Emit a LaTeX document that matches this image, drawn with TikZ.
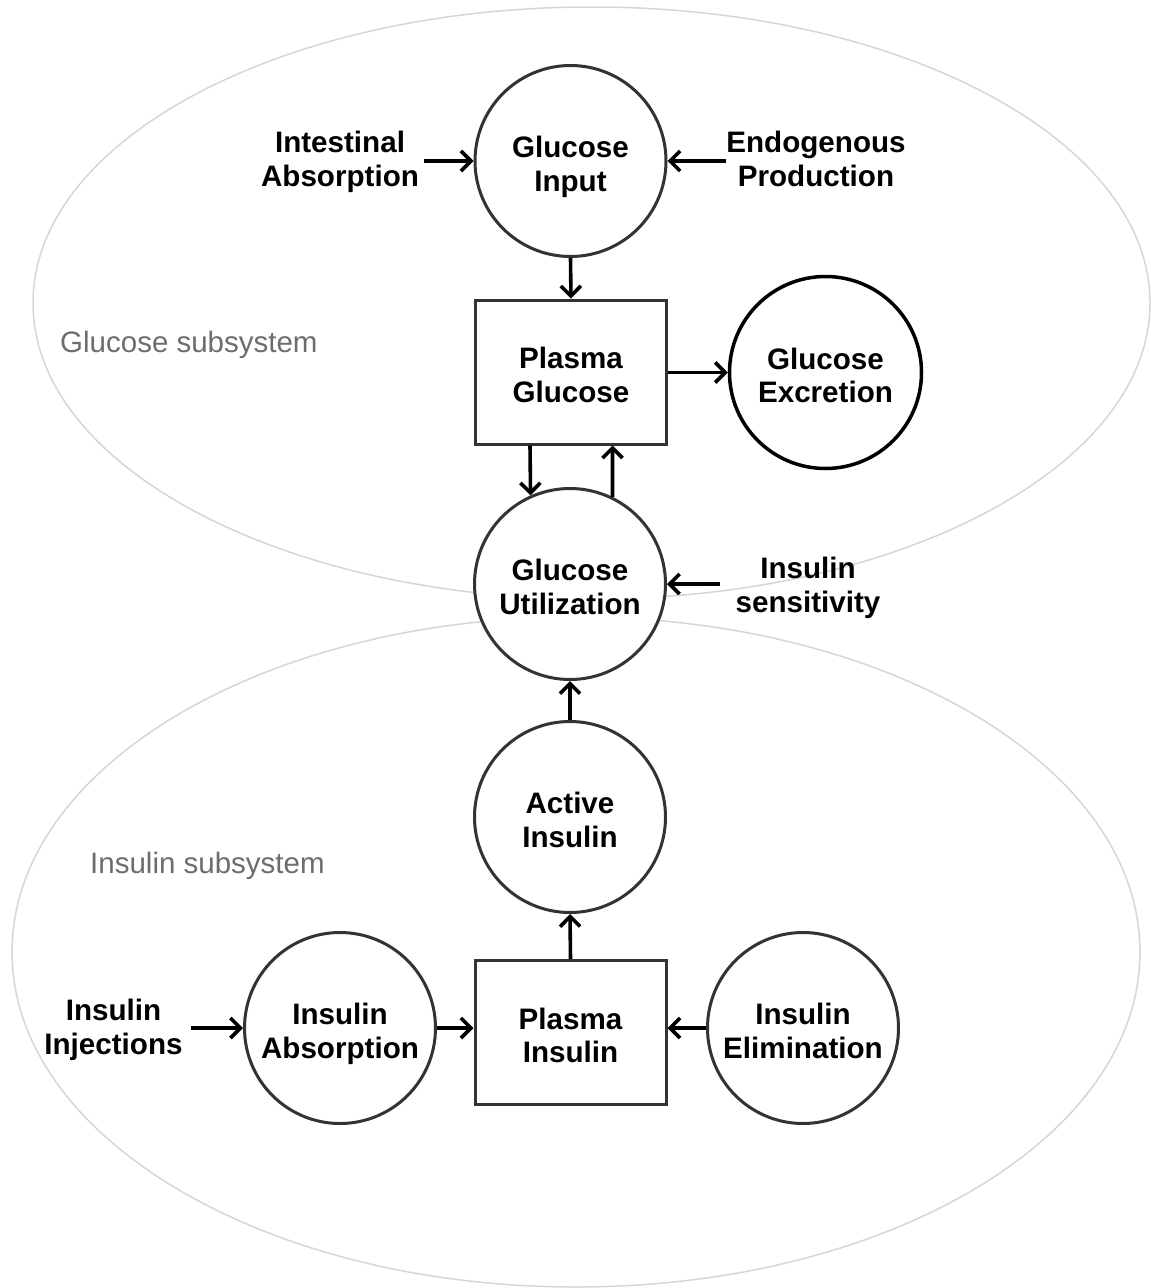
\documentclass[tikz,border=0pt]{standalone}
\usepackage{fontspec}
\setmainfont{Liberation Sans}
\usetikzlibrary{arrows.meta}
\definecolor{ellcol}{HTML}{D6D6D6}
\definecolor{strokecol}{HTML}{333333}
\definecolor{subcol}{HTML}{6D6D6D}
\begin{document}
\begin{tikzpicture}[x=1pt,y=1pt,
  bfont/.style={font=\bfseries\fontsize{29.6}{33.5}\selectfont},
  circ/.style={circle,draw=strokecol,line width=3pt,fill=white,minimum size=191pt,
    inner sep=0pt,align=center,bfont,text height=60pt,text depth=0pt},
  sq/.style={rectangle,draw=strokecol,line width=3pt,fill=white,minimum width=191pt,
    minimum height=144pt,inner sep=0pt,align=center,bfont,text height=60pt,text depth=0pt},
  lbl/.style={align=center,bfont,inner ysep=0pt,text depth=0pt},
  arr/.style={-{Straight Barb[length=10pt,width=20pt]},line width=3.6pt,black},
  subl/.style={font=\fontsize{29.5}{33}\selectfont,text=subcol,inner sep=0pt,anchor=base west},
  ellp/.style={draw=ellcol,line width=1.5pt}]
\useasboundingbox (0,0) rectangle (1151,-1288);
\fill[white] (0,0) rectangle (1151,-1288);
% subsystem ellipses
\draw[ellp] (591.5,-303) ellipse [x radius=558.5, y radius=296];
\draw[ellp] (576,-952) ellipse [x radius=564, y radius=335];
% subsystem labels
\node[subl] (gsub) at (60,-352) {Glucose subsystem};
\node[subl] (isub) at (90,-873) {Insulin subsystem};
% main nodes
\node[circ] (gi) at (570.5,-161) {Glucose\\Input};
\node[sq] (pg) at (571,-372) {Plasma\\Glucose};
\node[circ,draw=black,line width=3.5pt,minimum size=192pt] (ge) at (825.5,-372.5) {Glucose\\Excretion};
\node[circ] (gu) at (570,-584) {Glucose\\Utilization};
\node[circ] (ai) at (570,-817) {Active\\Insulin};
\node[sq] (pi) at (570.5,-1032.5) {Plasma\\Insulin};
\node[circ] (iab) at (340,-1028) {Insulin\\Absorption};
\node[circ] (iel) at (803,-1028) {Insulin\\Elimination};
% input labels
\node[lbl,inner xsep=5pt] (lia) at (340,-159) {Intestinal\\Absorption};
\node[lbl,inner xsep=0pt] (lep) at (816,-159) {Endogenous\\Production};
\node[lbl,inner xsep=15pt] (lis) at (808,-585) {Insulin\\sensitivity};
\node[lbl,inner xsep=8pt] (lij) at (113.5,-1027) {Insulin\\Injections};
% connectors
\draw[arr] (lia.east |- gi.west) -- (gi.west);
\draw[arr] (lep.west |- gi.east) -- (gi.east);
\draw[arr] (gi.south) -- (pg.north);
\draw[arr] (pg.east |- ge.west) -- (ge.west);
\draw[arr] ([xshift=-41pt]pg.south) -- (gu.114.6);
\draw[arr] (gu.64) -- ([xshift=41.5pt]pg.south);
\draw[arr] (lis.west |- gu.east) -- (gu.east);
\draw[arr] (ai.north) -- (gu.south);
\draw[arr] (pi.north) -- (ai.south);
\draw[arr] (lij.east |- iab.west) -- (iab.west);
\draw[arr] (iab.east) -- (iab.east -| pi.west);
\draw[arr] (iel.west) -- (iel.west -| pi.east);
\end{tikzpicture}
\end{document}
